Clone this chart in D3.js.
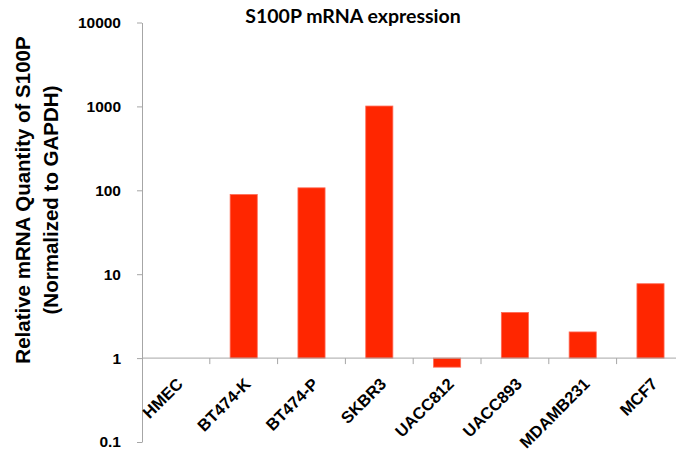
<!DOCTYPE html>
<html><head><meta charset="utf-8">
<script src="https://cdn.jsdelivr.net/npm/d3@7"></script>
<style>body{margin:0;background:#fff}svg{display:block}</style>
</head><body>
<svg id="c" width="676" height="455"></svg>
<script>
const categories = ["HMEC","BT474-K","BT474-P","SKBR3","UACC812","UACC893","MDAMB231","MCF7"];
const values = [1, 89, 107, 1010, 0.78, 3.5, 2.05, 7.7];
const yTicks = [0.1, 1, 10, 100, 1000, 10000];
const yTickLabels = ["0.1","1","10","100","1000","10000"];
const title = "S100P mRNA expression";
const yLabel = ["Relative mRNA Quantity of S100P","(Normalized to GAPDH)"];

const svg = d3.select("#c");
const x0 = 142, bandW = 67.8;
const x = d3.scaleBand().domain(categories).range([x0, x0 + bandW*categories.length]).paddingInner(0.6).paddingOuter(0.3);
const y = d3.scaleLog().domain([0.1, 10000]).range([442, 22.5]);
const axisColor = "#a6a6a6";

// y axis
const yAxis = svg.append("g").attr("transform", `translate(${x0},0)`)
  .call(d3.axisLeft(y).tickValues(yTicks).tickFormat((d,i)=>yTickLabels[i]).tickSize(5).tickSizeOuter(0));
yAxis.select(".domain").attr("stroke", axisColor);
yAxis.selectAll(".tick line").attr("stroke", axisColor);
yAxis.selectAll(".tick text").attr("x", -21).attr("fill","#000")
  .style("font-family","Liberation Sans, Arial, sans-serif").style("font-weight","bold").style("font-size","15.5px");

// bars
svg.append("g").selectAll("rect").data(categories.map((c,i)=>({c, v: values[i]}))).join("rect")
  .attr("x", d => x(d.c))
  .attr("width", x.bandwidth())
  .attr("y", d => Math.min(y(d.v), y(1)))
  .attr("height", d => Math.abs(y(d.v) - y(1)))
  .attr("fill", "#ff2600")
  .attr("stroke", "#ff6a55").attr("stroke-width", 0.8);

// x axis at value 1
const xb = d3.scaleLinear().domain([0, categories.length]).range([x0, x0 + bandW*categories.length]);
const xg = svg.append("g").attr("transform", `translate(0,${y(1)})`);
xg.append("line").attr("x1", x0).attr("x2", x0 + bandW*categories.length).attr("stroke", axisColor);
xg.selectAll("line.t").data(d3.range(1, categories.length)).join("line").attr("class","t")
  .attr("x1", d=>xb(d)).attr("x2", d=>xb(d)).attr("y1",0).attr("y2",6).attr("stroke", axisColor);
xg.selectAll("text").data(categories).join("text")
  .attr("transform", d => `translate(${x(d)+x.bandwidth()/2+8},${27}) rotate(-45)`)
  .attr("text-anchor","end")
  .style("font-family","Liberation Sans, Arial, sans-serif").style("font-weight","bold").style("font-size","16.5px")
  .text(d=>d);

// title
svg.append("text").attr("x", 353).attr("y", 22.5).attr("text-anchor","middle")
  .style("font-family","Lato, sans-serif").style("font-weight","bold").style("font-size","19.5px")
  .text(title);

// y label
const yl = svg.append("text").attr("transform","translate(0,200) rotate(-90)").attr("text-anchor","middle")
  .style("font-family","Liberation Sans, Arial, sans-serif").style("font-weight","bold").style("font-size","20.5px");
yl.append("tspan").attr("x",0).attr("y",30).text(yLabel[0]);
yl.append("tspan").attr("x",0).attr("y",58).text(yLabel[1]);
</script>
</body></html>
